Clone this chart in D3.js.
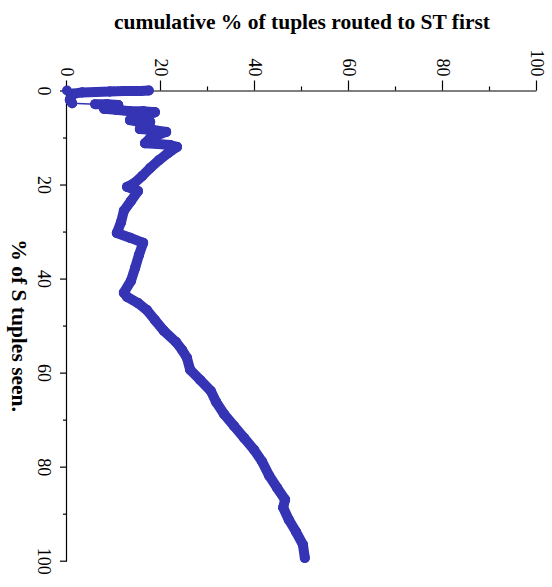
<!DOCTYPE html>
<html>
<head>
<meta charset="utf-8">
<script src="https://cdn.jsdelivr.net/npm/d3@7"></script>
<style>
  body { margin: 0; background: #fff; }
  svg { display: block; font-family: "Liberation Serif", "Times New Roman", serif; }
  .axis path, .axis line { stroke: #000; stroke-width: 1.2; }
  .axis text { fill: #000; font-size: 18px; font-family: "Liberation Serif", serif; }
</style>
</head>
<body>
<svg id="chart" width="552" height="587"></svg>
<script>
// % of S tuples seen  vs  cumulative % of tuples routed to ST first
var seenPct = [0, 0, 0.1, 0.1, 0.2, 0.3, 0.4, 0.7, 2.0, 2.7, 2.9, 2.9, 3.1,
               3.9, 4.1, 4.4, 4.4, 4.6, 5.7, 6.3, 6.7, 6.7, 8.2, 8.4, 8.8,
               10.1, 11.2, 11.4, 11.6, 12.0, 13.3, 14.8, 16.5, 18.2, 19.7, 20.5,
               21.4, 23.5, 25.6, 28.0, 30.3, 31.3, 32.4, 35.0, 37.7, 40.5, 43.0,
               43.9, 45.2, 46.7, 48.8, 51.1, 53.5, 55.2, 56.8, 59.4, 61.5, 63.9,
               66.2, 68.8, 71.3, 73.9, 76.4, 78.9, 81.9, 84.5, 87.0, 88.7, 91.3,
               93.8, 96.6, 99.4];
var cumPct  = [0, 17.4, 15.7, 12.1, 9.1, 6.2, 3.2, 1.3, 0.6, 1.1, 6.0, 8.5, 10.9,
               7.9, 10.4, 13.4, 16.2, 18.7, 16.2, 13.4, 15.5, 17.7, 15.5, 18.3, 21.1,
               17.7, 16.6, 19.4, 21.9, 23.4, 21.5, 19.6, 17.7, 16.0, 14.3, 12.8,
               15.1, 13.6, 12.1, 11.5, 10.6, 13.4, 16.2, 15.3, 14.5, 13.6, 12.1,
               12.8, 15.1, 17.0, 18.7, 20.6, 23.2, 24.5, 25.5, 26.2, 28.3, 30.6,
               31.7, 33.4, 35.5, 37.7, 39.8, 41.5, 43.0, 44.7, 46.4, 46.0, 47.2,
               48.7, 50.2, 50.6];
var majorTicks = [0, 20, 40, 60, 80, 100];
var minorTicks = [10, 30, 50, 70, 90];
var xTitle = "% of S tuples seen.";
var yTitle = "cumulative % of tuples routed to ST first";

var svg = d3.select('#chart'),
    W = 470.2,   // length of the "seen" axis
    H = 470,     // length of the "cumulative" axis
    color = '#3434b4';

var x = d3.scaleLinear().domain([0, 100]).range([0, W]),
    y = d3.scaleLinear().domain([0, 100]).range([H, 0]);

// the whole plot is turned a quarter turn clockwise
var g = svg.append('g')
    .attr('transform', 'translate(' + (67 + H) + ',90.5) rotate(90)');

g.append('g').attr('class', 'axis')
    .attr('transform', 'translate(0,' + H + ')')
    .call(d3.axisBottom(x).tickValues(majorTicks).tickSize(7).tickSizeOuter(0).tickPadding(9));
g.append('g').attr('class', 'axis minor')
    .attr('transform', 'translate(0,' + H + ')')
    .call(d3.axisBottom(x).tickValues(minorTicks).tickSize(4).tickFormat(''));

g.append('g').attr('class', 'axis')
    .call(d3.axisLeft(y).tickValues(majorTicks).tickSize(10).tickSizeOuter(0).tickPadding(4));
g.append('g').attr('class', 'axis minor')
    .call(d3.axisLeft(y).tickValues(minorTicks).tickSize(4).tickFormat(''));

g.selectAll('.minor .domain').remove();
g.selectAll('.axis').attr('font-family', null).attr('font-size', null);

var pts = seenPct.map(function(s, i) { return [x(s), y(cumPct[i])]; });

// thin connecting line
g.append('path')
    .datum(pts)
    .attr('fill', 'none')
    .attr('stroke', color)
    .attr('stroke-width', 1.5)
    .attr('d', d3.line());

// densely sampled stretches look like a solid band of markers
g.selectAll('line.band')
    .data(d3.pairs(pts).filter(function(p) {
      return Math.hypot(p[1][0] - p[0][0], p[1][1] - p[0][1]) < 21;
    }))
  .enter().append('line')
    .attr('class', 'band')
    .attr('x1', function(p) { return p[0][0]; })
    .attr('y1', function(p) { return p[0][1]; })
    .attr('x2', function(p) { return p[1][0]; })
    .attr('y2', function(p) { return p[1][1]; })
    .attr('stroke', color)
    .attr('stroke-width', 10)
    .attr('stroke-linecap', 'round');

g.selectAll('circle')
    .data(pts)
  .enter().append('circle')
    .attr('cx', function(d) { return d[0]; })
    .attr('cy', function(d) { return d[1]; })
    .attr('r', 5)
    .attr('fill', color);

// axis titles
svg.append('text')
    .attr('x', 67 + H / 2)
    .attr('y', 29)
    .attr('text-anchor', 'middle')
    .attr('font-weight', 'bold')
    .attr('font-size', 21.5)
    .text(yTitle);

svg.append('text')
    .attr('transform', 'translate(12,' + (90.5 + W / 2) + ') rotate(90)')
    .attr('text-anchor', 'middle')
    .attr('font-weight', 'bold')
    .attr('font-size', 21.5)
    .text(xTitle);
</script>
</body>
</html>
